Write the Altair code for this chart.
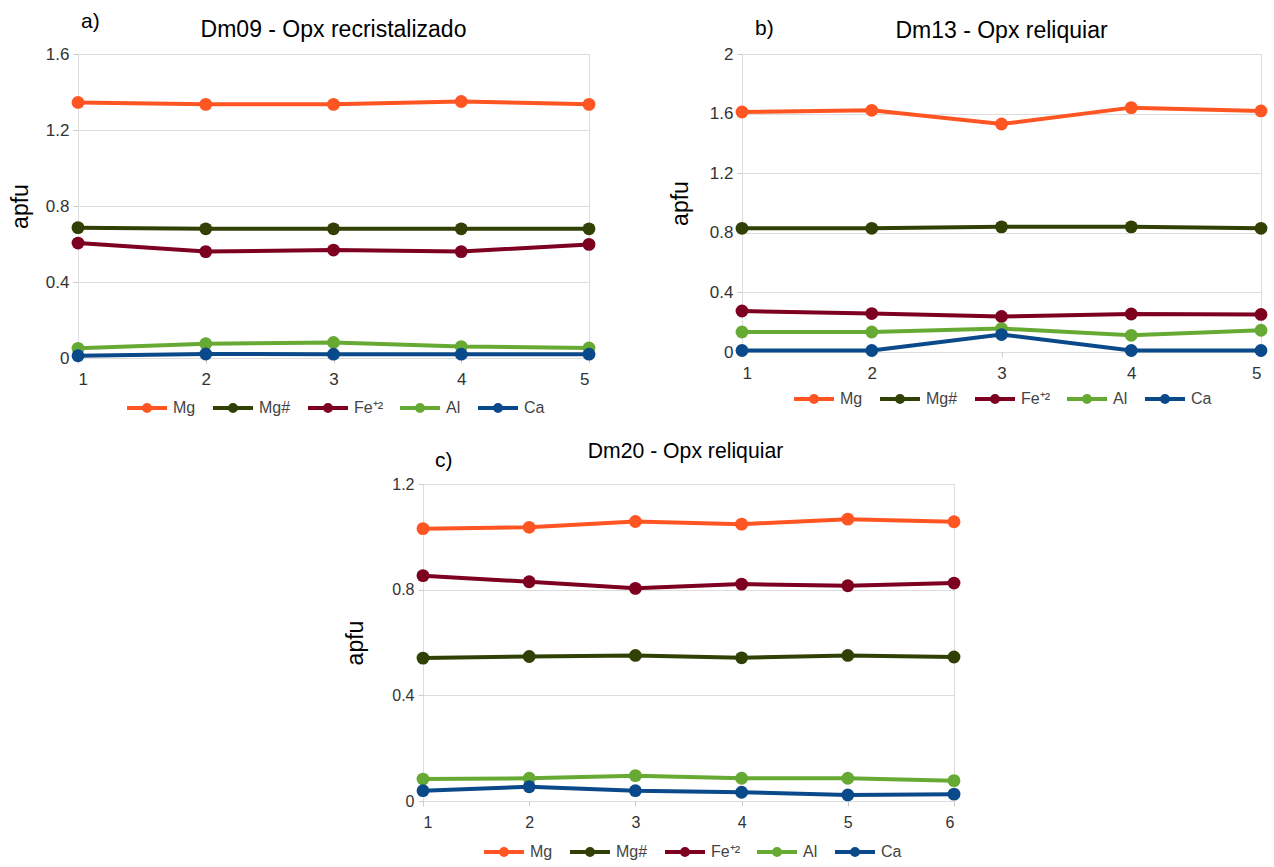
import altair as alt
import pandas as pd

series = ["Mg", "Mg#", "Fe⁺²", "Al", "Ca"]
colors = ["#FF5522", "#314004", "#7E0021", "#66AA33", "#0A4A8A"]

# Panel a) Dm09 - Opx recristalizado
a_x = [1, 2, 3, 4, 5]
a_mg = [1.345, 1.335, 1.335, 1.350, 1.335]
a_mgn = [0.686, 0.680, 0.680, 0.680, 0.680]
a_fe = [0.605, 0.560, 0.568, 0.560, 0.598]
a_al = [0.051, 0.075, 0.082, 0.060, 0.053]
a_ca = [0.012, 0.021, 0.020, 0.020, 0.020]

# Panel b) Dm13 - Opx reliquiar
b_x = [1, 2, 3, 4, 5]
b_mg = [1.611, 1.622, 1.530, 1.640, 1.618]
b_mgn = [0.830, 0.830, 0.840, 0.840, 0.830]
b_fe = [0.275, 0.258, 0.238, 0.255, 0.252]
b_al = [0.134, 0.134, 0.157, 0.112, 0.146]
b_ca = [0.010, 0.010, 0.117, 0.010, 0.010]

# Panel c) Dm20 - Opx reliquiar
c_x = [1, 2, 3, 4, 5, 6]
c_mg = [1.031, 1.036, 1.058, 1.048, 1.067, 1.057]
c_mgn = [0.541, 0.547, 0.551, 0.542, 0.551, 0.545]
c_fe = [0.853, 0.830, 0.805, 0.821, 0.815, 0.825]
c_al = [0.083, 0.086, 0.096, 0.086, 0.086, 0.077]
c_ca = [0.039, 0.054, 0.039, 0.033, 0.023, 0.026]

FONT = "Liberation Sans"
# line through a dot, drawn with a stroke (wider than the unit box so the
# legend rows stay short)
SYMBOL = ("M-2.5,0H2.5 "
          "M0.375,0A0.375,0.375 0 1,1 -0.375,0A0.375,0.375 0 1,1 0.375,0Z")


def long_df(xs, cols):
    rows = []
    for k, (name, vals) in enumerate(zip(series, cols)):
        for x, v in zip(xs, vals):
            rows.append({"x": x, "v": v, "s": name, "k": k})
    return pd.DataFrame(rows)


def panel(xs, cols, ymax, yticks, title, tag, w, h, tfs, tick_fs, title_x,
          title_y, title_dx, tag_x, tag_y, leg_x, leg_y):
    df = long_df(xs, cols)
    xenc = alt.X("x:Q", scale=alt.Scale(domain=[xs[0], xs[-1]], nice=False),
                 axis=alt.Axis(values=xs, format="d", title=None, grid=False,
                               labelFontSize=tick_fs, labelPadding=8,
                               tickSize=5, tickColor="#cccccc",
                               labelColor="#333333", labelFont=FONT))
    yenc = alt.Y("v:Q", scale=alt.Scale(domain=[0, ymax], nice=False),
                 axis=alt.Axis(values=yticks, format="~g", title="apfu",
                               labelFontSize=tick_fs, labelPadding=4,
                               tickSize=5, tickColor="#cccccc",
                               labelColor="#333333", labelFont=FONT,
                               gridColor="#dddddd", titleFont=FONT,
                               titleFontSize=23, titleFontWeight="normal",
                               titleColor="#000000", titleAngle=270,
                               titleX=title_x, titleY=h / 2,
                               titleAlign="center",
                               titleBaseline="alphabetic"))
    leg = alt.Legend(
        title=None, orient="none", legendX=leg_x, legendY=leg_y,
        direction="horizontal", symbolType=SYMBOL, symbolSize=256,
        symbolStrokeWidth=4, symbolOpacity=1, labelFontSize=16,
        labelFont=FONT, labelColor="#444444", columnPadding=9,
        labelOffset=16, padding=0)
    cscale = alt.Scale(domain=series, range=colors)
    base = alt.Chart(df)
    lines = base.mark_line(strokeWidth=4).encode(
        x=xenc, y=yenc, detail="s:N",
        color=alt.Color("s:N", scale=cscale, legend=leg))
    points = base.mark_point(filled=True, size=165, opacity=1).encode(
        x=xenc, y=yenc,
        color=alt.Color("s:N", scale=cscale, legend=leg))
    tag_chart = alt.Chart(pd.DataFrame({"t": [tag]})).mark_text(
        align="left", baseline="alphabetic", fontSize=21, font=FONT,
        color="#000000").encode(text="t:N", x=alt.value(tag_x),
                                y=alt.value(tag_y))
    title_chart = alt.Chart(pd.DataFrame({"t": [title]})).mark_text(
        align="center", baseline="alphabetic", fontSize=tfs, font=FONT,
        color="#000000").encode(text="t:N", x=alt.value(w / 2 + title_dx),
                                y=alt.value(title_y))
    return alt.layer(lines, points, tag_chart, title_chart).properties(
        width=w, height=h)


pa = panel(a_x, [a_mg, a_mgn, a_fe, a_al, a_ca], 1.6,
           [0, 0.4, 0.8, 1.2, 1.6], "Dm09 - Opx recristalizado", "a)",
           511, 304, 23, 17, -51, -17, 0, 3, -26, 59, 344)
pb = panel(b_x, [b_mg, b_mgn, b_fe, b_al, b_ca], 2.0,
           [0, 0.4, 0.8, 1.2, 1.6, 2.0], "Dm13 - Opx reliquiar", "b)",
           519, 298, 23, 17, -55, -16, 0, 13, -19, 62, 335)
pc = panel(c_x, [c_mg, c_mgn, c_fe, c_al, c_ca], 1.2,
           [0, 0.4, 0.8, 1.2], "Dm20 - Opx reliquiar", "c)",
           531, 317, 21.2, 16, -61, -26, -3, 12, -17, 71, 358)

spacer = alt.Chart(pd.DataFrame({"x": [0]})).mark_point(opacity=0).properties(
    width=254, height=10, view=alt.ViewBackground(stroke="transparent"))

top = alt.hconcat(pa, pb, spacing=70).resolve_scale(color="independent")
bottom = alt.hconcat(spacer, pc, spacing=10).resolve_scale(color="independent")

chart = alt.vconcat(top, bottom, spacing=20).resolve_scale(
    color="independent").properties(
    padding={"left": 8, "top": 10, "right": 0, "bottom": 0}
).configure_view(stroke="#dddddd").configure_axis(domain=False)

chart.save("out.html", embed_options={"renderer": "svg", "actions": False})
